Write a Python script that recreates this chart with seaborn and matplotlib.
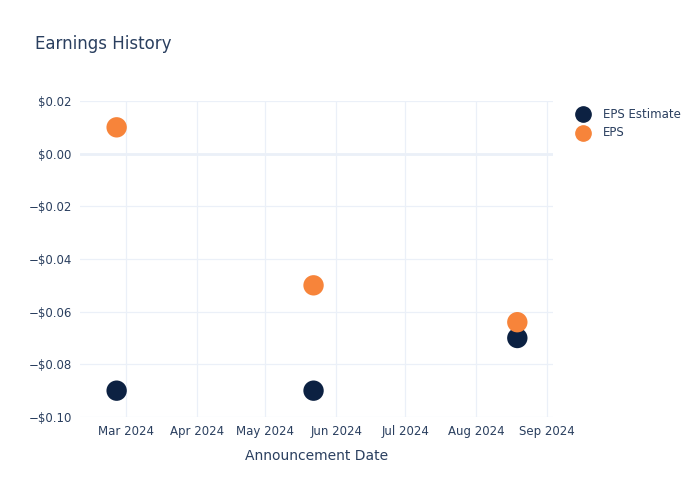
import pandas as pd
import matplotlib.pyplot as plt
import matplotlib.dates as mdates
import matplotlib.ticker as mticker
import seaborn as sns

dates = ['2024-02-26', '2024-05-22', '2024-08-19']
eps_estimate = [-0.09, -0.09, -0.07]
eps_actual = [0.01, -0.05, -0.064]

series_names = ['EPS Estimate', 'EPS']
series_colors = ['#0c2142', '#f7843a']
text_color = '#2a3f5f'
grid_color = '#ebf0f8'

df = pd.DataFrame({
    'date': pd.to_datetime(dates * 2),
    'value': eps_estimate + eps_actual,
    'series': [series_names[0]] * len(dates) + [series_names[1]] * len(dates),
})

sns.set_style('white')
plt.rcParams['font.family'] = ['DejaVu Sans']

fig = plt.figure(figsize=(7, 5), dpi=100)
ax = fig.add_axes([80 / 700, 1 - 417 / 500, 473 / 700, 316 / 500])

sns.scatterplot(data=df, x='date', y='value', hue='series',
                hue_order=series_names, palette=series_colors,
                s=215, linewidth=0, ax=ax, legend=False, zorder=3)

ax.set_xlim(pd.Timestamp('2024-02-10'), pd.Timestamp('2024-09-03 14:00'))
ax.set_ylim(-0.10, 0.02)
ax.yaxis.set_major_locator(mticker.MultipleLocator(0.02))

def money(v, pos):
    s = f'${abs(v):.2f}'
    return ('\u2212' + s) if v < -1e-9 else s

ax.yaxis.set_major_formatter(mticker.FuncFormatter(money))
ax.xaxis.set_major_locator(mdates.MonthLocator())
ax.xaxis.set_major_formatter(mdates.DateFormatter('%b %Y'))

ax.grid(True, color=grid_color, linewidth=0.9, zorder=0)
ax.axhline(0, color=grid_color, linewidth=2, zorder=1)
for sp in ax.spines.values():
    sp.set_visible(False)
ax.tick_params(axis='both', length=0, labelsize=8.5, colors=text_color, pad=6)
ax.set_xlabel('Announcement Date', fontsize=10, color=text_color, labelpad=8)
ax.set_ylabel('')

fig.text(35 / 700, 1 - 44 / 500, 'Earnings History', fontsize=12,
         color=text_color, va='center', ha='left')

# legend drawn by hand outside the plot area
for i, (name, col) in enumerate(zip(series_names, series_colors)):
    y = 1 - (114 + i * 19) / 500
    fig.add_artist(plt.Line2D([583 / 700], [y], marker='o', markersize=11,
                              color=col, linestyle='', transform=fig.transFigure))
    fig.text(603 / 700, y, name, fontsize=8.5, color=text_color,
             va='center', ha='left')

fig.savefig('out.png', dpi=100)
